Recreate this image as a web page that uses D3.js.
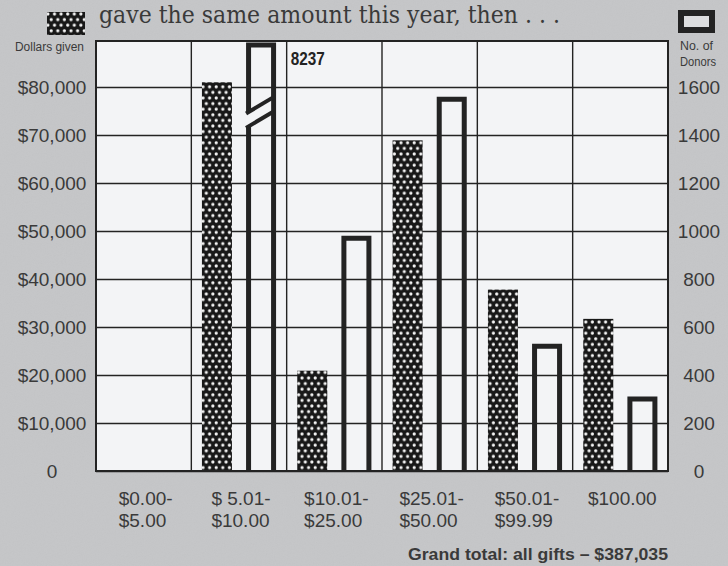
<!DOCTYPE html>
<html>
<head>
<meta charset="utf-8">
<script src="https://cdn.jsdelivr.net/npm/d3@7"></script>
<style>
body { margin: 0; background: #c5c6c8; }
svg { display: block; }
.sans { font-family: "Liberation Sans", Arial, sans-serif; }
</style>
</head>
<body>
<script>
// bins of gift size (two lines each)
var categories = ["$0.00-\n$5.00", "$ 5.01-\n$10.00", "$10.01-\n$25.00", "$25.01-\n$50.00", "$50.01-\n$99.99", "$100.00"];
// left axis: dollars given
var dollarsGiven = [0, 81000, 20900, 68900, 37800, 31700];
// right axis: number of donors
var donors = [0, 8237, 980, 1560, 530, 310];
var dollarTicks = [0, 10000, 20000, 30000, 40000, 50000, 60000, 70000, 80000];
var donorTicks = [0, 200, 400, 600, 800, 1000, 1200, 1400, 1600];
var titleText = "gave the same amount this year, then . . .";
var totalText = "Grand total: all gifts \u2013 $387,035";

var W = 728, H = 566;
var ink = "#232323", textInk = "#3a3a3a", paper = "#f3f4f6", bg = "#c5c6c8";

var svg = d3
    .select("body")
    .append("svg")
    .attr("width", W)
    .attr("height", H);

var defs = svg.append("defs");
var dots = defs.append("pattern")
    .attr("id", "dots")
    .attr("patternUnits", "userSpaceOnUse")
    .attr("width", 6.6)
    .attr("height", 11.2);
dots.append("rect").attr("width", 6.6).attr("height", 11.2).attr("fill", "#181818");
dots.append("circle").attr("cx", 1.7).attr("cy", 2.8).attr("r", 1.6).attr("fill", "#f6f6f6");
dots.append("circle").attr("cx", 5.0).attr("cy", 8.4).attr("r", 1.6).attr("fill", "#f6f6f6");

// a bit of paper grain
var grain = defs.append("filter").attr("id", "grain");
grain.append("feTurbulence").attr("type", "fractalNoise").attr("baseFrequency", 0.9).attr("numOctaves", 2).attr("seed", 3);
grain.append("feColorMatrix").attr("type", "saturate").attr("values", 0);

svg.append("rect").attr("width", W).attr("height", H).attr("fill", bg);
svg.append("rect").attr("width", W).attr("height", H).attr("filter", "url(#grain)").attr("opacity", 0.06);

// scales
var x = d3.scaleBand().domain(categories).range([96, 668]);
var xi = d3.scaleBand()
    .domain(["dollars", "donors"])
    .range([0, x.bandwidth()])
    .paddingInner(0.32)
    .paddingOuter(0.24);
var yL = d3.scaleLinear().domain([0, 89600]).range([471, 41]);
var yR = d3.scaleLinear().domain([0, 1792]).range([471, 41]);

var plotL = x.range()[0], plotR = x.range()[1];
var plotT = yL.range()[1], plotB = yL.range()[0];

svg.append("rect")
    .attr("x", plotL).attr("y", plotT)
    .attr("width", plotR - plotL).attr("height", plotB - plotT)
    .attr("fill", paper);

// horizontal grid + left labels via axis
var leftAxis = svg.append("g")
    .attr("transform", "translate(" + plotL + ",0)")
    .call(d3.axisLeft(yL)
        .tickValues(dollarTicks)
        .tickSize(-(plotR - plotL))
        .tickSizeOuter(0)
        .tickFormat(function(d) { return d === 0 ? "0" : "$" + d3.format(",")(d); }));
leftAxis.select(".domain").remove();
leftAxis.selectAll("line").attr("stroke", ink).attr("stroke-width", 1.4);
leftAxis.selectAll("text")
    .attr("class", "sans")
    .attr("x", -44)
    .attr("text-anchor", "middle")
    .attr("font-size", 19)
    .attr("fill", textInk);

var rightAxis = svg.append("g")
    .attr("transform", "translate(" + plotR + ",0)")
    .call(d3.axisRight(yR).tickValues(donorTicks).tickSize(0).tickFormat(d3.format("d")));
rightAxis.select(".domain").remove();
rightAxis.selectAll("text")
    .attr("class", "sans")
    .attr("x", 31)
    .attr("text-anchor", "middle")
    .attr("font-size", 19)
    .attr("fill", textInk);

// vertical grid between bins
svg.append("g")
    .selectAll("line")
    .data(categories.slice(1))
    .enter()
    .append("line")
    .attr("x1", function(d) { return x(d); })
    .attr("x2", function(d) { return x(d); })
    .attr("y1", plotT)
    .attr("y2", plotB)
    .attr("stroke", ink)
    .attr("stroke-width", 1.4);

// dollars bars (dotted)
svg.append("g")
    .selectAll("rect")
    .data(categories)
    .enter()
    .append("rect")
    .attr("x", function(d) { return x(d) + xi("dollars"); })
    .attr("y", function(d, i) { return yL(dollarsGiven[i]); })
    .attr("width", xi.bandwidth())
    .attr("height", function(d, i) { return plotB - yL(dollarsGiven[i]); })
    .attr("fill", "url(#dots)");

// donor bars (hollow, open at the bottom)
var sw = 5;
var rMax = yR.domain()[1];
svg.append("g")
    .selectAll("path")
    .data(categories.filter(function(d, i) { return donors[i] > 0; }))
    .enter()
    .append("path")
    .attr("d", function(d) {
        var i = categories.indexOf(d);
        var x0 = x(d) + xi("donors") + sw / 2;
        var x1 = x(d) + xi("donors") + xi.bandwidth() - sw / 2;
        var top = yR(Math.min(donors[i], rMax)) + sw / 2;
        if (donors[i] > rMax) top += 1.5;
        return "M" + x0 + "," + plotB + "V" + top + "H" + x1 + "V" + plotB;
    })
    .attr("fill", "none")
    .attr("stroke", ink)
    .attr("stroke-width", sw)
    .attr("stroke-linejoin", "miter");

// break mark on the bar that runs off the scale
categories.forEach(function(d, i) {
    if (donors[i] <= rMax) return;
    var x0 = x(d) + xi("donors") + sw / 2;
    var x1 = x(d) + xi("donors") + xi.bandwidth() - sw / 2;
    var lo = 1430, hi = 1490, slant = 68;
    svg.append("polygon")
        .attr("points", [
            [x0 - sw, yR(hi)], [x1 - sw / 2, yR(hi + slant)],
            [x1 - sw / 2, yR(lo + slant)], [x0 - sw, yR(lo)]
        ].join(" "))
        .attr("fill", paper);
    [hi, lo].forEach(function(v) {
        svg.append("line")
            .attr("x1", x0 - sw / 2).attr("y1", yR(v))
            .attr("x2", x1).attr("y2", yR(v + slant))
            .attr("stroke", ink)
            .attr("stroke-width", 4);
    });
    svg.append("text")
        .attr("class", "sans")
        .attr("x", x(categories[i + 1]) + 4)
        .attr("y", 65)
        .attr("font-size", 18)
        .attr("font-weight", "bold")
        .attr("textLength", 34)
        .attr("lengthAdjust", "spacingAndGlyphs")
        .attr("fill", ink)
        .text(donors[i]);
});

// frame
svg.append("rect")
    .attr("x", plotL).attr("y", plotT)
    .attr("width", plotR - plotL).attr("height", plotB - plotT)
    .attr("fill", "none")
    .attr("stroke", ink)
    .attr("stroke-width", 2);

// bin labels, lines left-aligned and block centred on the bin
svg.append("g")
    .selectAll("text")
    .data(categories)
    .enter()
    .append("text")
    .attr("class", "sans")
    .attr("font-size", 19)
    .attr("fill", textInk)
    .each(function(d) {
        var t = d3.select(this);
        d.split("\n").forEach(function(line, k) {
            t.append("tspan").attr("x", 0).attr("y", 505 + k * 22).text(line);
        });
        var w = this.getBBox().width;
        t.attr("transform", "translate(" + (x(d) + x.bandwidth() / 2 - w / 2 + 2) + ",0)");
    });

svg.append("text")
    .attr("class", "sans")
    .attr("x", 408)
    .attr("y", 560)
    .attr("font-size", 17)
    .attr("font-weight", "bold")
    .attr("textLength", 260)
    .attr("lengthAdjust", "spacingAndGlyphs")
    .attr("fill", textInk)
    .text(totalText);

// title and legend keys
svg.append("text")
    .attr("x", 99)
    .attr("y", 23)
    .attr("font-family", "'DejaVu Serif', 'Liberation Serif', serif")
    .attr("font-size", 25)
    .attr("textLength", 461)
    .attr("lengthAdjust", "spacingAndGlyphs")
    .attr("fill", "#3a3a3a")
    .text(titleText);

svg.append("rect")
    .attr("x", 47).attr("y", 12).attr("width", 38).attr("height", 23)
    .attr("fill", "url(#dots)");
svg.append("text")
    .attr("class", "sans")
    .attr("x", 15).attr("y", 51)
    .attr("font-size", 12.5)
    .attr("textLength", 69)
    .attr("lengthAdjust", "spacingAndGlyphs")
    .attr("fill", textInk)
    .text("Dollars given");

svg.append("rect")
    .attr("x", 681).attr("y", 13).attr("width", 31).attr("height", 17)
    .attr("fill", "#dcdddf")
    .attr("stroke", ink)
    .attr("stroke-width", 6);
[["No. of", 50, 33], ["Donors", 66, 36]].forEach(function(r) {
    svg.append("text")
        .attr("class", "sans")
        .attr("x", 680).attr("y", r[1])
        .attr("font-size", 13)
        .attr("textLength", r[2])
        .attr("lengthAdjust", "spacingAndGlyphs")
        .attr("fill", textInk)
        .text(r[0]);
});
</script>
</body>
</html>
